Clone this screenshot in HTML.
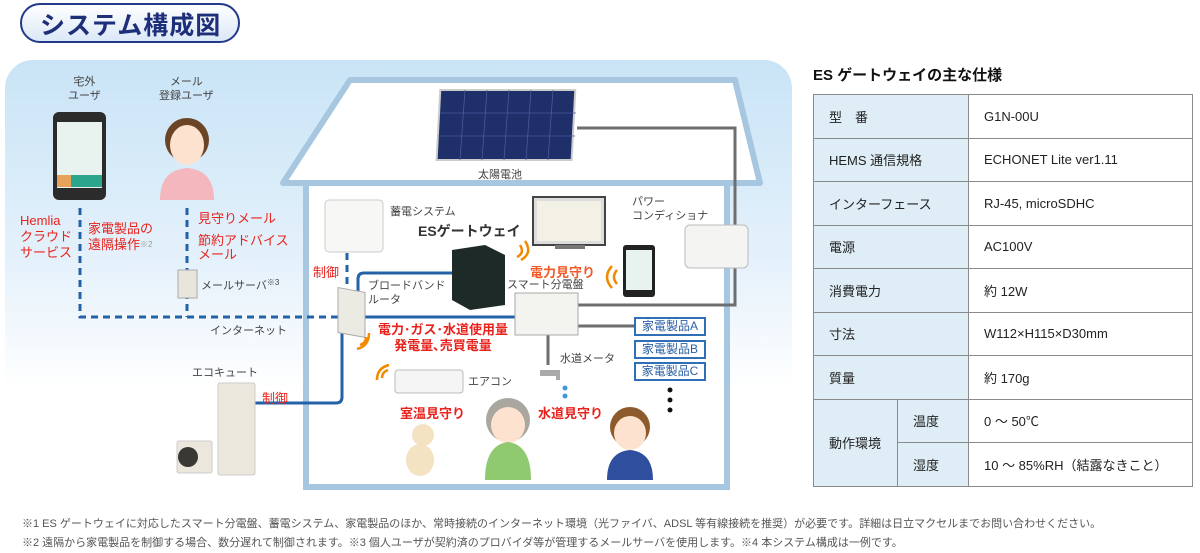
<!DOCTYPE html>
<html><head><meta charset="utf-8"><style>
body{margin:0;width:1200px;height:551px;position:relative;overflow:hidden;background:#fff;font-family:"Liberation Sans","Noto Sans CJK JP",sans-serif;}
.a{position:absolute;white-space:nowrap;}
.g{color:#444;font-size:11px;}
.r{color:#e8231e;font-size:13px;font-weight:bold;}
table{border-collapse:collapse;position:absolute;left:813px;top:94px;width:380px;font-size:13px;color:#222;}
td{border:1px solid #8a8a8a;height:42.5px;padding:0 0 0 15px;}
td.h{background:#deedf6;}
.box{position:absolute;border:2px solid #2f6fb5;color:#2a5fa5;font-size:12px;text-align:center;width:68px;height:15px;line-height:15px;background:#fff;}
</style></head><body>
<!-- panel -->
<div class="a" style="left:5px;top:60px;width:787px;height:330px;border-radius:28px 28px 0 0;background:linear-gradient(#c9e4f6,#e4f1fb 60%,#fff);"></div>
<!-- title -->
<div class="a" style="left:20px;top:3px;width:216px;height:36px;border:2px solid #223a88;border-radius:20px;background:linear-gradient(#fff,#dbe8f7);"></div>
<div class="a" style="left:40px;top:6px;font-size:25px;font-weight:bold;color:#1e2f7a;letter-spacing:1px;">システム構成図</div>

<svg class="a" style="left:0;top:0" width="800" height="500">
<!-- house -->
<polygon points="283,183 350,80 735,80 760,183" fill="#fff" stroke="#a7c6df" stroke-width="6" stroke-linejoin="round"/>
<rect x="306" y="183" width="421" height="304" fill="#fff" stroke="#a7c6df" stroke-width="6"/>
<!-- solar -->
<rect x="445" y="90" width="135" height="70" fill="#1f2f6a" stroke="#ccc" stroke-width="2" transform="skewX(-3)"/>
<g stroke="#4a5a9a" stroke-width="0.8"><line x1="465" y1="90" x2="460" y2="160"/><line x1="487" y1="90" x2="482" y2="160"/><line x1="509" y1="90" x2="504" y2="160"/><line x1="531" y1="90" x2="526" y2="160"/><line x1="553" y1="90" x2="548" y2="160"/><line x1="440" y1="113" x2="576" y2="113"/><line x1="438" y1="136" x2="575" y2="136"/></g>
<!-- gray lines -->
<g fill="none" stroke="#6e6e6e" stroke-width="3"><path d="M577,128 H735 V305 H578"/><path d="M578,326 H636"/><path d="M548,335 V365"/></g>
<!-- blue solid -->
<g fill="none" stroke="#2462a8" stroke-width="3"><path d="M358,317 V279 q0,-6 6,-6 H453"/><path d="M360,317 H515"/><path d="M342,323 V397 q0,6 -6,6 H255"/></g>
<!-- dashed -->
<g fill="none" stroke="#2462a8" stroke-width="3" stroke-dasharray="7,5"><path d="M80,208 V317 H340"/><path d="M187,208 V317"/><path d="M347,253 V290"/></g>
<!-- phone -->
<rect x="53" y="112" width="53" height="88" rx="6" fill="#2b2b2b"/><rect x="57" y="122" width="45" height="66" fill="#e8f2ee"/><rect x="57" y="175" width="45" height="12" fill="#2ca58d"/><rect x="57" y="175" width="14" height="12" fill="#e8a35a"/>
<!-- woman -->
<circle cx="187" cy="140" r="22" fill="#6b4426"/><ellipse cx="187" cy="145" rx="17" ry="20" fill="#fde3cf"/><path d="M160,200 q0,-30 27,-32 q27,2 27,32z" fill="#f4b7bd"/>
<!-- server -->
<rect x="178" y="270" width="19" height="28" fill="#e8e6dc" stroke="#aaa"/>
<!-- storage -->
<rect x="325" y="200" width="58" height="52" rx="4" fill="#f7f7f5" stroke="#ccc"/>
<!-- router -->
<rect x="338" y="290" width="27" height="45" fill="#ecebe3" stroke="#aaa" transform="skewY(10) translate(0,-62)"/>
<!-- gateway -->
<polygon points="452,250 485,245 505,255 505,305 470,310 452,300" fill="#1e2a28"/>
<!-- TV -->
<rect x="533" y="197" width="72" height="48" fill="#ddd" stroke="#444" stroke-width="2"/><rect x="537" y="201" width="64" height="40" fill="#f3f0e6"/><rect x="555" y="245" width="30" height="4" fill="#777"/>
<!-- tablet -->
<rect x="623" y="245" width="32" height="52" rx="3" fill="#222"/><rect x="626" y="250" width="26" height="40" fill="#e8f2ee"/>
<!-- power conditioner -->
<rect x="685" y="225" width="63" height="43" rx="5" fill="#f4f4f2" stroke="#bbb"/>
<!-- smart panel -->
<rect x="515" y="293" width="63" height="42" fill="#f3f3f0" stroke="#aaa"/>
<!-- aircon -->
<rect x="395" y="370" width="68" height="23" rx="3" fill="#f5f5f5" stroke="#bbb"/>
<!-- faucet -->
<path d="M540,370 h20 v10 h-4 v-4 h-16z" fill="#aaa"/><circle cx="565" cy="388" r="2.5" fill="#3a9ad9"/><circle cx="565" cy="396" r="2.5" fill="#3a9ad9"/>
<!-- wifi marks -->
<g fill="none" stroke="#f08a00" stroke-width="2.5"><path d="M520,245 q5,8 -3,12"/><path d="M525,241 q8,12 -4,19"/><path d="M617,270 q-6,7 0,14"/><path d="M612,266 q-10,11 0,22"/><path d="M360,345 q6,-2 6,-8"/><path d="M357,349 q12,-3 12,-16"/><path d="M382,378 q0,-6 6,-8"/><path d="M377,380 q0,-12 12,-15"/></g>
<!-- dots -->
<circle cx="670" cy="390" r="2.5" fill="#111"/><circle cx="670" cy="400" r="2.5" fill="#111"/><circle cx="670" cy="410" r="2.5" fill="#111"/>
<!-- dog -->
<ellipse cx="420" cy="460" rx="14" ry="16" fill="#f4e3c3"/><circle cx="423" cy="435" r="11" fill="#f4e3c3"/>
<!-- grandma -->
<circle cx="508" cy="420" r="22" fill="#a9a7a0"/><ellipse cx="508" cy="425" rx="17" ry="18" fill="#fde3cf"/><path d="M485,480 q0,-35 23,-38 q23,3 23,38z" fill="#8fc970"/>
<!-- boy -->
<circle cx="630" cy="427" r="20" fill="#8c5a2b"/><ellipse cx="630" cy="433" rx="16" ry="17" fill="#fde3cf"/><path d="M607,480 q0,-28 23,-30 q23,2 23,30z" fill="#2f4f9e"/>
<!-- eco cute -->
<rect x="218" y="383" width="37" height="92" rx="2" fill="#ebe7dc" stroke="#ccc"/><rect x="177" y="441" width="35" height="32" rx="2" fill="#ebe7dc" stroke="#ccc"/><circle cx="188" cy="457" r="10" fill="#3a3833"/>
</svg>

<div class="a g" style="left:68px;top:75px;text-align:center;line-height:14px;">宅外<br>ユーザ</div>
<div class="a g" style="left:159px;top:75px;text-align:center;line-height:14px;">メール<br>登録ユーザ</div>
<div class="a r" style="left:20px;top:213px;font-weight:normal;line-height:16px;font-size:13px;">Hemlia<br>クラウド<br>サービス</div>
<div class="a r" style="left:88px;top:221px;line-height:16px;font-weight:normal;">家電製品の<br>遠隔操作<span style="font-size:8px;color:#999;vertical-align:top">※2</span></div>
<div class="a r" style="left:198px;top:208px;line-height:22px;font-weight:normal;">見守りメール<br><span style="line-height:14px">節約アドバイス</span><br></div>
<div class="a r" style="left:198px;top:244px;font-weight:normal;">メール</div>
<div class="a g" style="left:201px;top:277px;">メールサーバ<span style="font-size:8px;vertical-align:top">※3</span></div>
<div class="a g" style="left:210px;top:322px;">インターネット</div>
<div class="a r" style="left:313px;top:262px;font-weight:normal;">制御</div>
<div class="a g" style="left:368px;top:279px;line-height:14px;">ブロードバンド<br>ルータ</div>
<div class="a g" style="left:390px;top:203px;">蓄電システム</div>
<div class="a" style="left:418px;top:221px;font-size:14px;font-weight:bold;color:#333;">ESゲートウェイ</div>
<div class="a g" style="left:478px;top:166px;">太陽電池</div>
<div class="a g" style="left:632px;top:195px;line-height:14px;">パワー<br>コンディショナ</div>
<div class="a r" style="left:530px;top:262px;color:#f05a28;">電力見守り</div>
<div class="a g" style="left:507px;top:276px;">スマート分電盤</div>
<div class="a r" style="left:378px;top:322px;line-height:16px;text-align:center;">電力･ガス･水道使用量<br>発電量､売買電量</div>
<div class="a g" style="left:560px;top:350px;">水道メータ</div>
<div class="a g" style="left:468px;top:373px;">エアコン</div>
<div class="a r" style="left:400px;top:403px;">室温見守り</div>
<div class="a r" style="left:538px;top:403px;">水道見守り</div>
<div class="a g" style="left:192px;top:364px;">エコキュート</div>
<div class="a r" style="left:262px;top:388px;font-weight:normal;">制御</div>
<div class="box" style="left:634px;top:317px;">家電製品A</div>
<div class="box" style="left:634px;top:340px;">家電製品B</div>
<div class="box" style="left:634px;top:362px;">家電製品C</div>

<div class="a" style="left:813px;top:64px;font-size:15px;font-weight:bold;color:#111;">ES ゲートウェイの主な仕様</div>
<table>
<tr><td class="h" colspan="2" style="width:138px">型　番</td><td>G1N-00U</td></tr>
<tr><td class="h" colspan="2">HEMS 通信規格</td><td>ECHONET Lite ver1.11</td></tr>
<tr><td class="h" colspan="2">インターフェース</td><td>RJ-45, microSDHC</td></tr>
<tr><td class="h" colspan="2">電源</td><td>AC100V</td></tr>
<tr><td class="h" colspan="2">消費電力</td><td>約 12W</td></tr>
<tr><td class="h" colspan="2">寸法</td><td>W112×H115×D30mm</td></tr>
<tr><td class="h" colspan="2">質量</td><td>約 170g</td></tr>
<tr><td class="h" rowspan="2" style="width:68px">動作環境</td><td class="h" style="width:55px">温度</td><td>0 ～ 50℃</td></tr>
<tr><td class="h">湿度</td><td>10 ～ 85%RH（結露なきこと）</td></tr>
</table>

<div class="a" style="left:22px;top:515px;font-size:11px;color:#555;line-height:19px;">※1 ES ゲートウェイに対応したスマート分電盤、蓄電システム、家電製品のほか、常時接続のインターネット環境（光ファイバ、ADSL 等有線接続を推奨）が必要です。詳細は日立マクセルまでお問い合わせください。<br>※2 遠隔から家電製品を制御する場合、数分遅れて制御されます。※3 個人ユーザが契約済のプロバイダ等が管理するメールサーバを使用します。※4 本システム構成は一例です。</div>
</body></html>
